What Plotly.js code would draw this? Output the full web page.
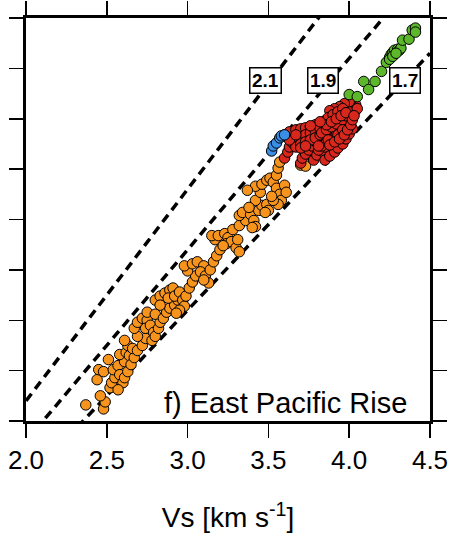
<!DOCTYPE html>
<html><head><meta charset="utf-8">
<script src="https://cdn.plot.ly/plotly-3.0.1.min.js"></script>
<style>html,body{margin:0;padding:0;background:#fff;}#plot{width:458px;height:538px;}</style>
</head><body><div id="plot"></div>
<script>
// Vp/Vs reference ratios
const ratios = [2.1, 1.9, 1.7];
const ratioLabels = ["2.1", "1.9", "1.7"];
const lineVs = [2.0, 4.5];

const orangeVs = [2.37,2.48,2.49,2.46,2.44,2.45,2.48,2.51,2.52,2.53,2.55,2.54,2.57,2.58,2.60,2.57,2.61,2.63,2.61,2.58,2.62,2.64,2.65,2.67,2.63,2.61,2.66,2.69,2.72,2.74,2.69,2.67,2.69,2.72,2.75,2.74,2.77,2.79,2.78,2.80,2.82,2.83,2.75,2.80,2.85,2.87,2.89,2.92,2.94,2.80,2.83,2.86,2.89,2.91,2.88,2.92,2.95,2.97,2.98,2.95,2.93,2.83,2.99,3.01,3.03,3.05,3.00,2.98,3.03,3.06,3.10,3.08,3.11,3.13,3.10,3.14,3.16,3.18,3.20,3.17,3.15,3.19,3.23,3.25,3.24,3.27,3.30,3.32,3.31,3.22,3.28,3.32,3.36,3.32,3.34,3.39,3.41,3.42,3.40,3.44,3.46,3.49,3.50,3.48,3.42,3.45,3.42,3.46,3.49,3.51,3.53,3.55,3.57,3.58,3.56,3.53,3.52,3.55,3.56,3.57,3.38,3.37,3.60,3.61,3.70,3.73];
const orangeVp = [4.16,4.12,4.19,4.25,4.41,4.51,4.49,4.61,4.33,4.38,4.43,4.51,4.55,4.46,4.38,4.31,4.43,4.49,4.59,4.66,4.68,4.65,4.56,4.63,4.75,4.80,4.72,4.70,4.75,4.82,4.84,4.92,4.98,5.02,5.00,4.92,4.95,4.88,4.80,4.84,4.92,4.98,5.08,5.06,5.02,5.08,5.12,5.15,5.20,5.20,5.24,5.27,5.30,5.32,5.22,5.24,5.28,5.20,5.14,5.10,5.07,5.15,5.24,5.32,5.38,5.44,5.49,5.54,5.56,5.58,5.54,5.48,5.44,5.37,5.40,5.50,5.58,5.64,5.70,5.80,5.84,5.84,5.86,5.82,5.76,5.78,5.72,5.68,5.80,5.74,5.90,5.94,5.99,6.04,6.07,6.05,5.99,5.93,5.92,6.09,6.14,6.15,6.09,6.07,6.19,6.27,6.33,6.35,6.39,6.41,6.37,6.31,6.25,6.19,6.15,6.19,6.23,6.44,6.51,6.57,6.12,6.29,6.34,6.27,6.54,6.53];

const redVs = [3.60,3.63,3.67,3.70,3.73,3.76,3.79,3.82,3.85,3.88,3.91,3.94,3.97,4.01,4.02,
3.60,3.62,3.63,3.65,3.68,3.70,3.73,3.76,3.79,3.82,3.85,3.88,3.91,3.94,3.97,4.01,
3.70,3.71,3.73,3.75,3.77,3.80,3.82,3.85,3.88,3.91,3.94,3.97,4.01,4.03,
3.78,3.80,3.83,3.85,3.88,3.90,3.93,3.95,3.97,4.00,4.02,4.04,
3.85,3.88,3.91,3.93,3.96,3.98,4.00,4.02,
3.67,3.70,3.73,3.76,3.79,3.82,3.85,3.88,3.91,3.94,3.97,3.99,
3.81,3.83,3.86,3.89,3.92,3.94,3.97,3.99,4.00,4.02,
3.83,3.86,3.89,3.92,3.96,3.98,4.00,
4.04,4.05,4.02,4.00,3.97,3.94,3.91,3.88,3.63,3.67,3.70,3.73,3.81,3.87,3.93,3.96,
3.87,3.90,3.93,3.96,3.86,3.89,3.92,3.95,3.98,3.88,3.91,3.94,3.97,3.99,4.01,4.02,4.03,3.82,3.76];
const redVp = [6.84,6.87,6.89,6.90,6.91,6.92,6.94,6.96,6.98,7.01,7.03,7.06,7.09,7.13,7.17,
6.61,6.67,6.72,6.76,6.79,6.82,6.84,6.86,6.88,6.90,6.92,6.95,6.98,7.01,7.04,7.07,
6.56,6.61,6.65,6.69,6.73,6.76,6.79,6.82,6.85,6.89,6.93,6.97,7.01,7.06,
6.59,6.64,6.68,6.72,6.75,6.79,6.83,6.87,6.92,6.97,7.02,7.09,
6.59,6.63,6.67,6.71,6.75,6.80,6.85,6.90,
6.72,6.75,6.77,6.79,6.81,6.84,6.87,6.89,6.92,6.96,7.00,7.05,
6.69,6.73,6.77,6.80,6.84,6.88,6.93,6.98,7.03,7.09,
6.86,6.89,6.92,6.95,6.99,7.03,7.07,
7.14,7.10,7.20,7.17,7.15,7.12,7.10,7.08,6.79,6.84,6.71,6.73,6.73,6.79,6.84,6.89,
7.01,7.04,7.07,7.10,6.94,6.97,7.00,7.03,7.06,6.74,6.77,6.80,6.84,6.89,6.94,6.99,7.03,6.97,6.93];

const blueVs = [3.52,3.53,3.55,3.57,3.58,3.60];
const blueVp = [6.68,6.73,6.76,6.81,6.83,6.84];

const greenVs = [4.00,4.05,4.09,4.12,4.16,4.20,4.23,4.25,4.26,4.27,4.28,4.30,4.31,4.32,4.25,4.27,4.29,4.33,4.37,4.39,4.41,4.41];
const greenVp = [7.24,7.22,7.37,7.29,7.37,7.47,7.56,7.61,7.64,7.66,7.68,7.69,7.68,7.70,7.59,7.62,7.65,7.78,7.79,7.88,7.90,7.86];

const FONT = "'Liberation Sans', Arial, Helvetica, sans-serif";
const traces = [];
ratios.forEach(r => {
  traces.push({x: lineVs, y: lineVs.map(v => v * r), mode: 'lines', type: 'scatter',
    line: {color: '#000', width: 3.5, dash: '9px,6px'}, hoverinfo: 'skip', showlegend: false});
});
function pts(x, y, color) {
  return {x: x, y: y, mode: 'markers', type: 'scatter', showlegend: false,
    marker: {size: 10.5, color: color, line: {color: '#000', width: 1}}};
}
traces.push(pts(orangeVs, orangeVp, '#f7941d'));
traces.push(pts(redVs, redVp, '#d8281e'));
traces.push(pts(blueVs, blueVp, '#3a8ee6'));
traces.push(pts(greenVs, greenVp, '#5cb82a'));

const labelPos = [[3.479, 7.375], [3.838, 7.375], [4.345, 7.375]];
const annotations = ratioLabels.map((t, i) => ({
  x: labelPos[i][0], y: labelPos[i][1], xref: 'x', yref: 'y', text: '<b>' + t + '</b>',
  showarrow: false, font: {family: FONT, size: 19, color: '#000'},
  bgcolor: '#fff', bordercolor: '#000', borderwidth: 1.5, borderpad: 1.5
}));
annotations.push({x: 0.948, y: 0.045, xref: 'paper', yref: 'paper', xanchor: 'right', yanchor: 'middle',
  text: 'f) East Pacific Rise', showarrow: false, font: {family: FONT, size: 29, color: '#000'}});

const layout = {
  width: 458, height: 538,
  margin: {l: 26, r: 28, t: 18, b: 117},
  paper_bgcolor: '#fff', plot_bgcolor: '#fff',
  font: {family: FONT, color: '#000'},
  xaxis: {range: [2.0, 4.5], dtick: 0.5, tick0: 2.0, tickformat: '.1f', ticks: 'outside', ticklen: 14, tickwidth: 1.5,
    tickcolor: '#000', showline: true, linewidth: 3, linecolor: '#000', mirror: 'ticks', showgrid: false, zeroline: false,
    tickfont: {family: FONT, size: 26, color: '#000'},
    title: {text: 'Vs [km s<sup>-1</sup>]', font: {family: FONT, size: 28, color: '#000'}, standoff: 34}},
  yaxis: {range: [4.0, 8.0], dtick: 0.5, ticks: 'outside', ticklen: 14, tickwidth: 1.5, tickcolor: '#000',
    showline: true, linewidth: 3, linecolor: '#000', mirror: 'ticks', showgrid: false, zeroline: false, showticklabels: false},
  annotations: annotations
};
Plotly.newPlot('plot', traces, layout, {staticPlot: true, displayModeBar: false});
</script></body></html>
